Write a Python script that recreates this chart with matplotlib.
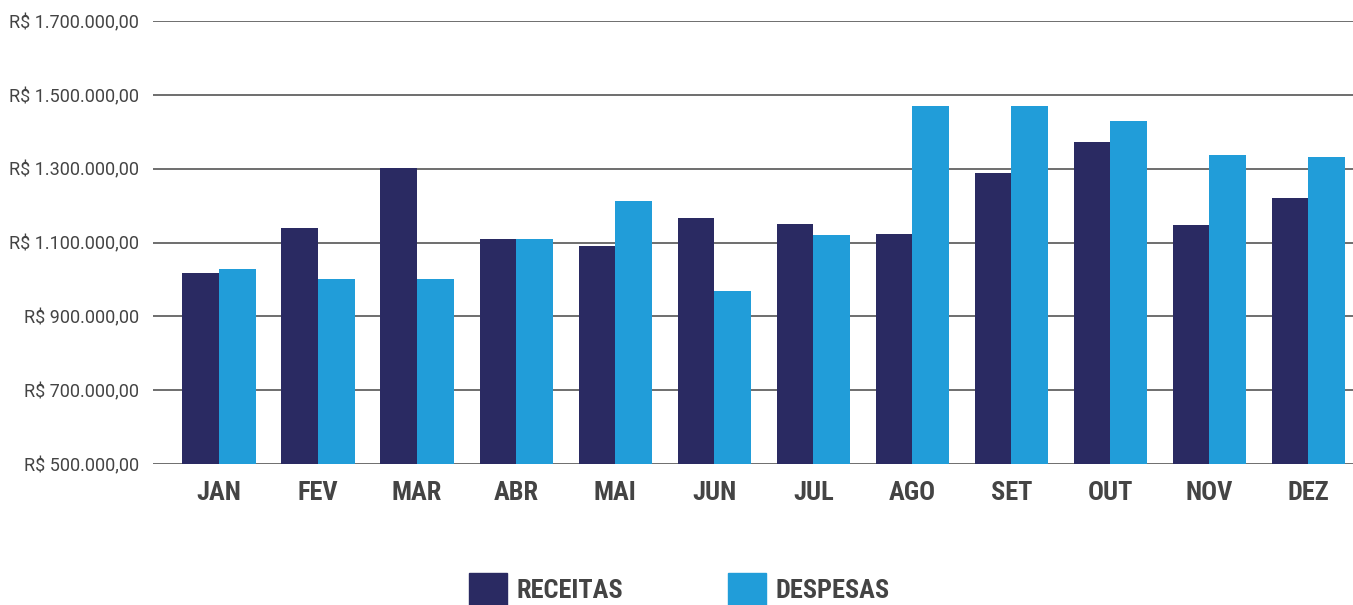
import matplotlib.pyplot as plt
import numpy as np
from matplotlib.patches import Patch

meses = ["JAN", "FEV", "MAR", "ABR", "MAI", "JUN", "JUL", "AGO", "SET", "OUT", "NOV", "DEZ"]
receitas = [1017000, 1139000, 1302000, 1110000, 1091000, 1167000,
            1150000, 1123000, 1289000, 1373000, 1148000, 1221000]
despesas = [1028000, 1001000, 1001000, 1110000, 1213000, 969000,
            1121000, 1470000, 1470000, 1430000, 1337000, 1332000]
yticks = [500000, 700000, 900000, 1100000, 1300000, 1500000, 1700000]

COR_REC = "#2a2a62"
COR_DES = "#219dd9"
CINZA = "#444444"
COND = ["Roboto Condensed", "Roboto", "DejaVu Sans"]


def brl(v):
    # formato brasileiro: R$ 1.234.567,00
    s = f"{v:,.2f}"
    s = s.replace(",", "X").replace(".", ",").replace("X", ".")
    return "R$ " + s


fig = plt.figure(figsize=(13.53, 6.05), dpi=100)
ax = fig.add_axes([153 / 1353, 141 / 605, 1200 / 1353, 443 / 605])

x = np.arange(len(meses))
w = 0.37
ax.bar(x - w / 2, receitas, w, color=COR_REC, zorder=3)
ax.bar(x + w / 2, despesas, w, color=COR_DES, zorder=3)

ax.set_ylim(500000, 1700000)
ax.set_xlim(-0.667, 11.45)
ax.set_yticks(yticks)
ax.set_yticklabels([brl(v) for v in yticks], fontfamily="Roboto", fontsize=13, color=CINZA)
ax.set_xticks(x)
ax.set_xticklabels(meses, fontfamily=COND, fontweight="bold", fontsize=19, color=CINZA)
ax.tick_params(axis="y", length=0, pad=10)
ax.tick_params(axis="x", length=0, pad=12)

ax.grid(axis="y", color="#555555", linewidth=1.2, zorder=0)
for s in ["top", "right", "left", "bottom"]:
    ax.spines[s].set_visible(False)

handles = [Patch(color=COR_REC, label="RECEITAS"), Patch(color=COR_DES, label="DESPESAS")]
leg = fig.legend(handles=handles, loc="lower center", bbox_to_anchor=(0.502, -0.017),
                 ncol=2, frameon=False, handlelength=1.45, handleheight=1.45,
                 handletextpad=0.35, columnspacing=4.0, borderaxespad=0,
                 prop={"family": COND, "weight": "bold", "size": 19})
for t in leg.get_texts():
    t.set_color(CINZA)

fig.savefig("out.png", dpi=100)
